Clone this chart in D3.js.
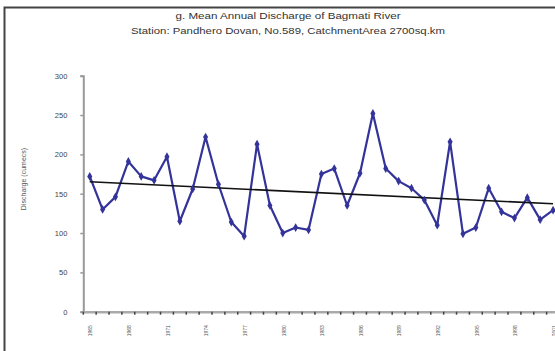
<!DOCTYPE html>
<html><head><meta charset="utf-8">
<script src="https://cdn.jsdelivr.net/npm/d3@7"></script>
<style>body{margin:0;background:#fff}svg{display:block;font-family:"Liberation Sans",Arial,sans-serif}</style>
</head><body>
<svg id="c" width="555" height="351"></svg>
<script>
const years = d3.range(1965, 2002).map(String);
const discharge = [172,130,146,191,172,167,197,115,156,222,162,114,96,213,135,100,107,104,175,182,135,176,252,182,166,157,142,110,216,99,107,157,127,119,145,117,129];
const yTicks = [0,50,100,150,200,250,300];
const titleLines = ["g. Mean Annual  Discharge of Bagmati  River","Station: Pandhero Dovan, No.589, CatchmentArea 2700sq.km"];
const yTitle = "Discharge (cumecs)";

const svg = d3.select("#c");
// frame
svg.append("path").attr("d","M4.5,351 V7.5 H555").attr("fill","none").attr("stroke","#444").attr("stroke-width",2);

// titles
svg.selectAll("text.t").data(titleLines).enter().append("text")
  .attr("x",288).attr("y",(d,i)=>19+i*15).attr("text-anchor","middle")
  .attr("font-size",9).attr("fill","#333").text(d=>d)
  .attr("textLength",(d,i)=>i?314:225).attr("lengthAdjust","spacingAndGlyphs");

const x = d3.scaleBand().domain(years).range([83.3, 83.3+12.87*years.length]);
const y = d3.scaleLinear().domain([0,300]).range([311.7, 75.7]);

// y axis
const ya = svg.append("g").attr("transform","translate(83.3,0)")
  .call(d3.axisLeft(y).tickValues(yTicks).tickSize(3).tickPadding(13));
ya.select(".domain").attr("stroke","#999").attr("stroke-width",2);
ya.selectAll(".tick line").attr("stroke","#999").attr("stroke-width",1.5);
ya.selectAll("text").attr("font-size",7.5).attr("fill","#444").attr("font-family","Liberation Sans, Arial");

// x axis
const xa = svg.append("g").attr("transform","translate(0,311.7)")
  .call(d3.axisBottom(x).tickSize(0).tickFormat((d,i)=> i%3===0 ? d : ""));
xa.select(".domain").attr("stroke","#aaa").attr("stroke-width",2.5);
xa.selectAll(".tick text").attr("font-size",5).attr("fill","#555")
  .attr("transform","translate(-2,19) rotate(-90)").attr("text-anchor","middle").attr("dy","0.35em");
// category boundary ticks
xa.selectAll("line.b").data(years).enter().append("line")
  .attr("x1",d=>x(d)).attr("x2",d=>x(d)).attr("y1",0).attr("y2",3)
  .attr("stroke","#444").attr("stroke-width",1.5);

// y title
svg.append("text").attr("transform","translate(26,179) rotate(-90)")
  .attr("text-anchor","middle").attr("font-size",7).attr("fill","#555").text(yTitle);

// trend (least squares)
const n = discharge.length, xs = d3.range(n);
const mx = d3.mean(xs), my = d3.mean(discharge);
const slope = d3.sum(xs,i=>(i-mx)*(discharge[i]-my))/d3.sum(xs,i=>(i-mx)*(i-mx));
const cx = i => x(years[i]) + x.bandwidth()/2;

const line = d3.line().x((d,i)=>cx(i)).y(d=>y(d));
svg.append("path").datum(discharge).attr("d",line).attr("fill","none")
  .attr("stroke","#333399").attr("stroke-width",2.2).attr("stroke-linejoin","round");

svg.append("line").attr("x1",cx(0)).attr("x2",cx(n-1))
  .attr("y1",y(my+slope*(0-mx))).attr("y2",y(my+slope*(n-1-mx)))
  .attr("stroke","#111").attr("stroke-width",1.6);

svg.selectAll("path.m").data(discharge).enter().append("path")
  .attr("d",d3.symbol(d3.symbolDiamond,22))
  .attr("transform",(d,i)=>`translate(${cx(i)},${y(d)})`).attr("fill","#333399");
</script>
</body></html>
